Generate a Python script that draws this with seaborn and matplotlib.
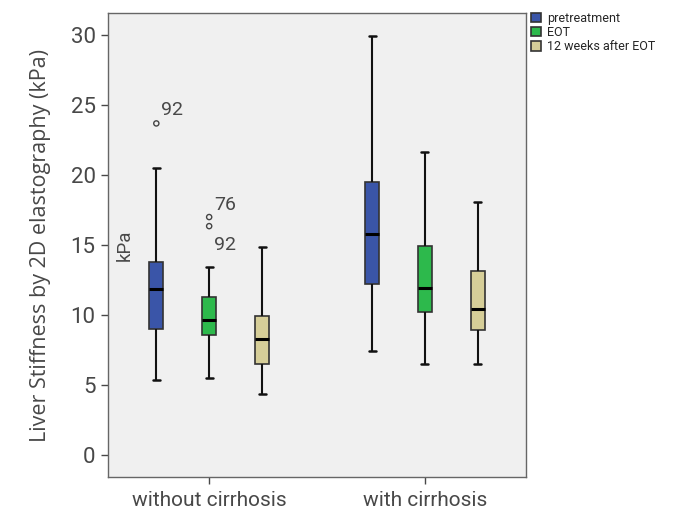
import numpy as np
import pandas as pd
import matplotlib
matplotlib.use("Agg")
import matplotlib.pyplot as plt
import seaborn as sns

# groups / phases
groups = ["without cirrhosis", "with cirrhosis"]
phases = ["pretreatment", "EOT", "12 weeks after EOT"]
colors = ["#3A55A8", "#2DB94C", "#D6CE98"]

# five-number summaries (kPa), group-major order
box_group = ["without cirrhosis"] * 3 + ["with cirrhosis"] * 3
box_phase = phases * 2
whis_lo = [5.35, 5.45, 4.35, 7.45, 6.45, 6.45]
q1 = [8.98, 8.57, 6.5, 12.2, 10.2, 8.93]
median = [11.83, 9.64, 8.26, 15.76, 11.9, 10.43]
q3 = [13.8, 11.3, 9.93, 19.5, 14.9, 13.14]
whis_hi = [20.48, 13.4, 14.83, 29.95, 21.67, 18.1]

# outliers with case labels
out_group = ["without cirrhosis", "without cirrhosis", "without cirrhosis"]
out_phase = ["pretreatment", "EOT", "EOT"]
out_value = [23.7, 17.0, 16.35]
out_label = ["92", "76", "92"]

# long-form table: each box built from its own five numbers
rows = []
for g, p, a, b, c, d, e in zip(box_group, box_phase, whis_lo, q1, median, q3, whis_hi):
    for v in (a, b, c, d, e):
        rows.append({"group": g, "phase": p, "value": v})
df = pd.DataFrame(rows)

sns.set_style("ticks")
plt.rcParams['font.family'] = ['Roboto', 'DejaVu Sans']
txt = "#484848"

fig = plt.figure(figsize=(6.81, 5.27), dpi=100)
ax = fig.add_axes([0.1586, 0.0949, 0.6138, 0.8804])
ax.set_facecolor("#F0F0F0")

box_w = 0.735
sns.boxplot(data=df, x="group", y="value", hue="phase", order=groups,
            hue_order=phases, palette=colors, whis=(0, 100), width=box_w,
            gap=0.735, fliersize=0, linewidth=1.2, linecolor="#333333",
            saturation=1, ax=ax,
            whiskerprops=dict(color="#111111", linewidth=1.5),
            capprops=dict(color="#111111", linewidth=1.8),
            medianprops=dict(color="#000000", linewidth=2.2))

# outliers + case numbers
step = box_w / len(phases)
for g, p, v, lab in zip(out_group, out_phase, out_value, out_label):
    xpos = groups.index(g) + (phases.index(p) - 1) * step
    ax.scatter([xpos], [v], s=14, facecolors="none", edgecolors="#444444",
               linewidths=1.0, zorder=5)
dy = [13, 12, -19]
for (g, p, v, lab), off in zip(zip(out_group, out_phase, out_value, out_label), dy):
    xpos = groups.index(g) + (phases.index(p) - 1) * step
    ax.annotate(lab, (xpos, v), xytext=(5, off), textcoords="offset pixels",
                ha="left", va="center", fontsize=14, color=txt)

ax.text(-0.39, 15.0, "kPa", rotation=90, ha="center", va="center",
        fontsize=13.5, color=txt)

ax.set_xlim(-0.469, 1.469)
ax.set_ylim(-1.6, 31.6)
ax.set_yticks([0, 5, 10, 15, 20, 25, 30])
ax.set_xlabel("")
ax.set_ylabel("Liver Stiffness by 2D elastography (kPa)", fontsize=15.5,
              color=txt, family=["Open Sans", "DejaVu Sans"], labelpad=14)
ax.tick_params(axis="y", labelsize=16, colors=txt, length=5, width=1,
               pad=4)
ax.tick_params(axis="x", labelsize=15, colors=txt, length=5, width=1,
               pad=5)
for s in ax.spines.values():
    s.set_visible(True)
    s.set_color("#666666")
    s.set_linewidth(1.0)

sns.move_legend(ax, "upper left", bbox_to_anchor=(1.005, 1.008), frameon=False,
                title=None, fontsize=9, borderaxespad=0, borderpad=0.2,
                handlelength=0.8, handleheight=0.8, handletextpad=0.5,
                labelspacing=0.1)

fig.savefig("out.png", dpi=100)
